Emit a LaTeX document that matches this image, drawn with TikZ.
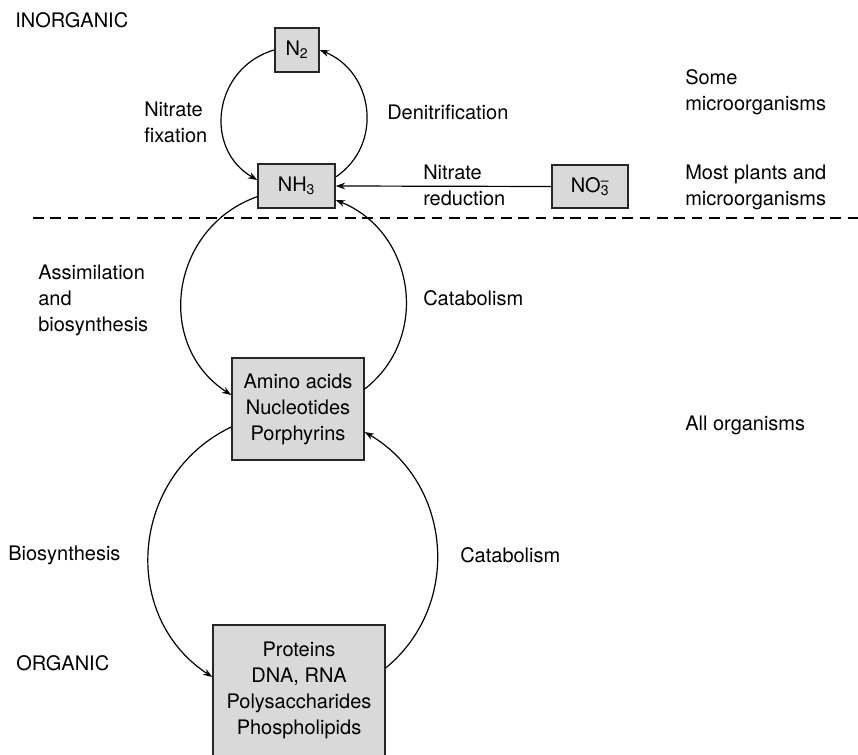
\documentclass[tikz,border=0pt]{standalone}
\usepackage{fontspec}
\setmainfont{TeX Gyre Heros}
\usetikzlibrary{arrows.meta, positioning}

\begin{document}
\begin{tikzpicture}[x=0.75pt, y=-0.75pt,
            pool/.style={rectangle, draw=black!85, line width=1.1pt, fill=black!15,
                         inner sep=0pt, align=center,
                         font=\fontsize{15}{19.5}\selectfont},
            flow/.style={-{Stealth[length=7pt, width=5pt]}, line width=0.9pt},
            lbl/.style={anchor=west, align=left, inner sep=0pt,
                        font=\fontsize{15}{19.5}\selectfont}
        ]
            \useasboundingbox (0,0) rectangle (858,755);

            % pools of nitrogen
            \node[pool, minimum width=33pt, minimum height=33pt] (N2) at (297,50) {N\textsubscript{2}};
            \node[pool, minimum width=57.75pt, minimum height=33pt] (NH3) at (296.5,186) {NH\textsubscript{3}};
            \node[pool, minimum width=57pt, minimum height=32.25pt] (NO3) at (590,186.5) {NO\rlap{\textsuperscript{--}}\textsubscript{3}};
            \node[pool, minimum width=99pt, minimum height=76.5pt] (small) at (298,409) {Amino acids\\Nucleotides\\Porphyrins};
            \node[pool, minimum width=129pt, minimum height=120pt] (macro) at (299,705) {Proteins\\DNA, RNA\\Polysaccharides\\Phospholipids\\[6pt]};

            % separator
            \coordinate (sepL) at (33,218);
            \coordinate (sepR) at (858,218);
            \draw[line width=0.8pt, dash pattern=on 8pt off 5pt] (sepL) -- (sepR);

            % cycles (arcs of circles)
            \draw[flow] (N2.west) to[out=196, in=150, looseness=1.23] ([yshift=4.5pt]NH3.west);
            \draw[flow] ([yshift=6.75pt]NH3.east) to[out=34, in=-22, looseness=1.16] (N2.east);
            \draw[flow] (NO3.west) -- (NH3.east);
            \draw[flow] ([yshift=-8pt]NH3.west) to[out=199.5, in=147, looseness=1.18] ([yshift=10.5pt]small.west);
            \draw[flow] ([yshift=15pt]small.east) to[out=38, in=-22, looseness=1.135] ([yshift=-10.5pt]NH3.east);
            \draw[flow] ([yshift=-13.5pt]small.west) to[out=205.5, in=146.7, looseness=1.14] ([yshift=21pt]macro.west);
            \draw[flow] ([yshift=27.75pt]macro.east) to[out=39.5, in=-30.3, looseness=1.08] ([yshift=-17.25pt]small.east);

            % labels
            \node[lbl] (inorg) at (15,20) {INORGANIC};
            \node[lbl] (org) at (16,663) {ORGANIC};
            \node[lbl] (fix) at (144,122) {Nitrate\\fixation};
            \node[lbl] (denit) at (387,112) {Denitrification};
            \node[lbl] (red) at (423,185.5) {Nitrate\\reduction};
            \node[lbl] (assim) at (38,300) {Assimilation\\and\\biosynthesis};
            \node[lbl] (cat1) at (423,298) {Catabolism};
            \node[lbl] (bios) at (8,555) {Biosynthesis};
            \node[lbl] (cat2) at (460,555) {Catabolism};

            \node[lbl] (some) at (685,92) {Some\\microorganisms};
            \node[lbl] (most) at (685,187.5) {Most plants and\\microorganisms};
            \node[lbl] (all) at (685,425) {All organisms};
        \end{tikzpicture}
\end{document}
